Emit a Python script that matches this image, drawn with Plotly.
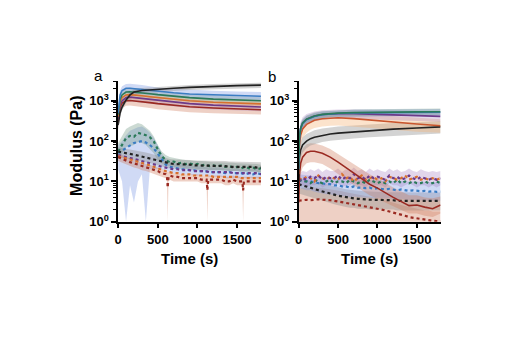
import plotly.graph_objects as go

# ---------------- DATA ----------------
# Panel a: storage modulus (solid), time grid
TA = [0, 25, 50, 100, 150, 200, 300, 400, 500, 700, 900, 1200, 1500, 1800]
a_blue = [500, 1400, 1800, 2050, 2050, 2000, 1900, 1800, 1700, 1580, 1480, 1400, 1340, 1300]
a_blue_lo = [350, 1050, 1350, 1550, 1550, 1500, 1450, 1400, 1320, 1250, 1180, 1120, 1080, 1050]
a_blue_hi = [700, 1800, 2300, 2600, 2650, 2600, 2450, 2300, 2150, 2000, 1880, 1780, 1700, 1650]
a_green = [450, 1100, 1400, 1650, 1680, 1650, 1580, 1500, 1420, 1300, 1200, 1100, 1040, 1000]
a_green_lo = [320, 850, 1100, 1300, 1320, 1300, 1250, 1180, 1120, 1030, 950, 880, 830, 800]
a_green_hi = [600, 1400, 1750, 2050, 2100, 2080, 1980, 1880, 1780, 1630, 1500, 1380, 1300, 1250]
a_orange = [400, 950, 1200, 1400, 1420, 1400, 1330, 1260, 1200, 1090, 1000, 920, 870, 840]
a_orange_lo = [300, 760, 960, 1120, 1140, 1120, 1060, 1000, 960, 870, 800, 740, 700, 670]
a_orange_hi = [520, 1200, 1500, 1750, 1780, 1750, 1660, 1580, 1500, 1360, 1250, 1150, 1090, 1050]
a_purple = [350, 800, 1000, 1200, 1230, 1200, 1140, 1080, 1020, 920, 850, 780, 730, 700]
a_purple_lo = [250, 620, 780, 950, 970, 950, 900, 850, 800, 720, 660, 610, 570, 550]
a_purple_hi = [470, 1000, 1250, 1500, 1530, 1500, 1420, 1350, 1280, 1150, 1060, 980, 920, 880]
a_red = [300, 700, 880, 1000, 1020, 1000, 950, 900, 850, 770, 710, 660, 620, 600]
a_red_lo = [200, 500, 650, 750, 760, 740, 700, 660, 620, 560, 520, 490, 470, 460]
a_red_hi = [420, 900, 1100, 1280, 1300, 1280, 1220, 1160, 1100, 1000, 930, 870, 820, 790]
a_black = [250, 500, 700, 1050, 1400, 1650, 1800, 1870, 1920, 2050, 2150, 2280, 2380, 2450]
a_black_lo = [180, 400, 580, 880, 1180, 1400, 1550, 1600, 1650, 1750, 1840, 1950, 2030, 2090]
a_black_hi = [330, 620, 840, 1250, 1650, 1930, 2080, 2150, 2220, 2360, 2480, 2620, 2740, 2820]

# Panel a: loss modulus (dotted), 50 s grid
TD = [0, 50, 100, 150, 200, 250, 300, 350, 400, 450, 500, 550, 600, 650, 700, 750, 800, 850,
      900, 950, 1000, 1050, 1100, 1150, 1200, 1250, 1300, 1350, 1400, 1450, 1500, 1550, 1600,
      1650, 1700, 1750, 1800]
ad_green = [55, 82, 118, 135, 128, 160, 150, 140, 125, 98, 62, 42, 34, 30, 31, 28, 29, 27, 28,
            26, 27, 25, 26, 24, 25, 23, 25, 23, 24, 22, 23, 21, 23, 21, 22, 20, 21]
ad_green_lo = [35, 50, 70, 75, 80, 95, 90, 80, 65, 50, 33, 28, 25, 24, 23, 22, 22, 21, 21, 21,
               20, 20, 20, 19, 19, 19, 19, 18, 18, 18, 18, 17, 17, 17, 17, 17, 16]
ad_green_hi = [90, 130, 200, 230, 250, 280, 260, 220, 180, 130, 80, 55, 45, 40, 38, 36, 35, 34,
               33, 33, 32, 32, 31, 31, 30, 30, 30, 29, 29, 29, 28, 28, 28, 27, 27, 27, 26]
ad_blue = [50, 58, 68, 80, 90, 95, 100, 92, 80, 66, 48, 34, 26, 23, 22, 21, 20, 20, 19, 19, 18,
           18, 18, 17, 17, 17, 17, 16, 17, 16, 16, 16, 15, 16, 15, 16, 15]
ad_blue_lo = [20, 10, 1, 8, 3, 10, 15, 1, 20, 20, 20, 20, 18, 17, 16, 16, 15, 15, 15, 14, 14, 14,
              14, 13, 13, 13, 13, 12, 12, 12, 12, 12, 12, 12, 12, 12, 12]
ad_blue_hi = [80, 100, 140, 180, 200, 220, 230, 200, 160, 120, 80, 50, 35, 30, 28, 27, 26, 25,
              25, 24, 24, 23, 23, 22, 22, 22, 22, 21, 21, 21, 21, 20, 20, 20, 20, 20, 20]
ad_black = [55, 52, 50, 48, 46, 44, 42, 40, 37, 35, 33, 31, 29, 28, 27, 27, 26, 26, 26, 25, 25,
            25, 25, 24, 24, 24, 24, 24, 23, 23, 23, 23, 23, 23, 23, 22, 22]
ad_black_lo = [40, 38, 37, 35, 34, 33, 31, 30, 28, 27, 25, 24, 22, 21, 21, 21, 20, 20, 20, 19, 19,
               19, 19, 19, 19, 19, 19, 19, 18, 18, 18, 18, 18, 18, 18, 17, 17]
ad_black_hi = [70, 66, 64, 62, 60, 58, 55, 52, 49, 46, 43, 40, 37, 36, 35, 35, 34, 34, 34, 33, 33,
               33, 33, 32, 32, 32, 32, 32, 31, 31, 31, 31, 31, 31, 31, 30, 30]
ad_purple = [45, 42, 40, 38, 36, 34, 32, 30, 28, 26, 25, 23, 22, 21, 20, 20, 19, 19, 19, 18, 18,
             18, 18, 17, 17, 17, 17, 17, 17, 16, 16, 16, 16, 16, 16, 16, 15]
ad_orange = [42, 40, 37, 35, 33, 31, 29, 27, 25, 23, 21, 19, 18, 17, 16, 16, 15, 15, 15, 14, 14,
             14, 14, 14, 13, 13, 13, 13, 13, 13, 13, 12, 12, 12, 12, 12, 12]
TRA = [0, 50, 100, 150, 200, 250, 300, 350, 400, 450, 500, 550, 600, 615, 625, 635, 650, 700,
       750, 800, 850, 900, 950, 1000, 1050, 1100, 1115, 1125, 1135, 1150, 1200, 1250, 1300,
       1350, 1400, 1450, 1500, 1550, 1565, 1575, 1585, 1600, 1650, 1700, 1750, 1800]
ad_red = [40, 36, 33, 30, 28, 26, 24, 22, 21, 19, 18, 16, 15, 14, 7, 13, 14, 13, 13, 12, 12, 12,
          12, 12, 11, 11, 11, 6, 11, 11, 11, 11, 11, 10, 10, 11, 10, 10, 10, 6, 10, 10, 10, 10,
          10, 10]
ad_red_lo = [32, 29, 26, 24, 22, 21, 19, 18, 17, 15, 14, 13, 12, 11, 1, 10, 11, 10, 10, 10, 10,
             10, 10, 10, 9, 9, 9, 1, 9, 9, 9, 9, 9, 8, 8, 9, 8, 8, 8, 1, 8, 8, 8, 8, 8, 8]
ad_red_hi = [50, 45, 41, 37, 35, 32, 30, 27, 26, 24, 22, 20, 19, 18, 17, 17, 18, 16, 16, 15, 15,
             15, 15, 15, 14, 14, 14, 14, 14, 14, 14, 14, 14, 13, 13, 14, 13, 13, 13, 13, 13, 13,
             13, 13, 13, 13]

# Panel b: storage modulus (solid)
TB = [0, 10, 25, 50, 100, 150, 200, 300, 400, 500, 700, 900, 1200, 1500, 1800]
b_blue = [20, 120, 200, 270, 340, 380, 410, 450, 470, 485, 500, 505, 510, 515, 520]
b_blue_lo = [12, 85, 150, 210, 270, 305, 335, 370, 390, 400, 410, 415, 420, 425, 430]
b_blue_hi = [30, 160, 260, 340, 420, 460, 490, 540, 560, 580, 600, 610, 615, 620, 625]
b_green = [20, 130, 210, 280, 350, 390, 420, 460, 480, 495, 510, 520, 525, 530, 535]
b_green_lo = [13, 95, 155, 215, 280, 315, 340, 375, 395, 405, 415, 425, 430, 435, 440]
b_green_hi = [28, 170, 270, 350, 430, 470, 510, 550, 570, 590, 610, 620, 630, 640, 645]
b_purple = [20, 130, 210, 280, 350, 390, 420, 455, 470, 480, 480, 470, 450, 425, 410]
b_purple_lo = [12, 85, 140, 190, 250, 285, 310, 340, 355, 360, 360, 350, 330, 310, 300]
b_purple_hi = [32, 190, 300, 390, 470, 510, 540, 580, 600, 610, 610, 600, 580, 560, 545]
b_orange = [15, 80, 140, 200, 260, 300, 330, 360, 375, 380, 360, 330, 300, 265, 240]
b_orange_lo = [8, 45, 80, 120, 160, 190, 210, 230, 240, 245, 230, 210, 190, 170, 160]
b_orange_hi = [25, 130, 220, 300, 380, 430, 460, 500, 520, 520, 500, 460, 420, 380, 350]
b_black = [10, 40, 60, 80, 100, 115, 125, 140, 150, 158, 170, 182, 198, 212, 225]
b_black_lo = [6, 25, 38, 52, 66, 78, 85, 95, 102, 108, 116, 124, 135, 145, 155]
b_black_hi = [16, 65, 95, 125, 150, 170, 185, 205, 220, 230, 245, 260, 280, 295, 310]
TRB = [0, 10, 25, 50, 100, 150, 200, 300, 400, 500, 700, 900, 1000, 1200, 1400, 1500, 1600,
       1700, 1800]
b_red = [3, 15, 28, 40, 52, 56, 56, 50, 40, 30, 16, 8.5, 6.8, 4, 2.5, 2.6, 2.3, 2.1, 2.6]
b_red_lo = [2, 8, 15, 22, 28, 30, 30, 27, 21, 15, 8, 4.5, 3.6, 2.4, 1.6, 1.6, 1.4, 1.3, 1.6]
b_red_hi = [5, 24, 45, 65, 83, 88, 87, 78, 64, 48, 27, 15, 12, 7, 4.5, 4.5, 4, 3.8, 4.2]

# Panel b: loss modulus (dotted), 50 s grid
bd_purple = [10, 12, 11, 13, 12, 14, 11, 13, 12, 12, 14, 11, 13, 12, 15, 12, 13, 11, 14, 12, 13,
             12, 11, 14, 12, 13, 11, 12, 14, 12, 11, 13, 12, 11, 12, 11, 12]
bd_purple_lo = [7, 8, 7, 8, 8, 9, 7, 8, 8, 8, 9, 7, 8, 8, 9, 8, 8, 7, 9, 8, 8, 8, 7, 9, 8, 8, 7,
                8, 9, 8, 7, 8, 8, 7, 8, 7, 8]
bd_purple_hi = [15, 18, 17, 20, 18, 21, 17, 20, 18, 18, 21, 17, 20, 18, 22, 18, 20, 17, 21, 18,
                20, 18, 17, 21, 18, 20, 17, 18, 21, 18, 17, 20, 18, 17, 18, 17, 18]
bd_green = [11, 10, 10, 9, 11, 10, 9, 10, 11, 9, 10, 10, 9, 11, 10, 9, 10, 9, 11, 10, 9, 10, 9,
            10, 9, 11, 9, 10, 9, 10, 9, 9, 10, 9, 9, 10, 9]
bd_orange = [12, 11, 13, 12, 10, 14, 12, 11, 13, 12, 11, 15, 12, 13, 10, 12, 14, 11, 12, 13, 11,
             12, 10, 13, 12, 11, 12, 14, 11, 12, 13, 11, 12, 11, 12, 11, 12]
bd_blue = [11, 10.5, 10, 10, 9.5, 9, 9, 8.5, 8.5, 8, 8, 7.5, 7.5, 7, 7.5, 7, 7, 6.8, 7, 6.5,
           6.8, 6.5, 6.3, 6.5, 6.2, 6, 6.3, 6, 5.8, 6, 5.8, 5.7, 5.8, 5.6, 5.7, 5.5, 5.6]
bd_blue_lo = [7, 6.5, 6, 6, 5.5, 5.2, 5, 4.8, 4.8, 4.5, 4.5, 4.3, 4.3, 4, 4.2, 4, 4, 3.9, 4, 3.8,
              3.9, 3.8, 3.7, 3.8, 3.6, 3.5, 3.7, 3.5, 3.4, 3.5, 3.4, 3.3, 3.4, 3.3, 3.3, 3.2, 3.3]
bd_blue_hi = [15, 14.5, 14, 14, 13.5, 13, 13, 12.5, 12.5, 12, 12, 11.5, 11.5, 11, 11.5, 11, 11,
              10.8, 11, 10.5, 10.8, 10.5, 10.3, 10.5, 10.2, 10, 10.3, 10, 9.8, 10, 9.8, 9.7,
              9.8, 9.6, 9.7, 9.5, 9.6]
bd_black = [8.5, 8, 7.5, 7, 6.5, 6, 5.7, 5.3, 5, 4.7, 4.4, 4.2, 4.0, 3.9, 3.8, 3.7, 3.6, 3.6,
            3.5, 3.5, 3.5, 3.4, 3.4, 3.4, 3.4, 3.3, 3.3, 3.3, 3.3, 3.2, 3.2, 3.2, 3.3, 3.3,
            3.3, 3.3, 3.3]
bd_black_lo = [5, 4.8, 4.5, 4.2, 3.9, 3.6, 3.4, 3.1, 2.9, 2.7, 2.5, 2.4, 2.3, 2.2, 2.2, 2.1,
               2.1, 2.1, 2, 2, 2, 2, 2, 2, 2, 1.9, 1.9, 1.9, 1.9, 1.9, 1.9, 1.9, 1.9, 1.9, 1.9,
               1.9, 1.9]
bd_black_hi = [12, 11.5, 11, 10.5, 10, 9.5, 9, 8.5, 8, 7.5, 7, 6.7, 6.4, 6.2, 6, 5.9, 5.8, 5.7,
               5.6, 5.5, 5.5, 5.4, 5.4, 5.4, 5.4, 5.3, 5.3, 5.3, 5.3, 5.2, 5.2, 5.2, 5.3, 5.3,
               5.3, 5.3, 5.3]
bd_red = [3.3, 3.4, 3.5, 3.4, 3.5, 3.6, 3.5, 3.5, 3.4, 3.3, 3.2, 3.0, 2.9, 2.8, 2.7, 2.6, 2.5,
          2.4, 2.3, 2.2, 2.1, 2.0, 1.9, 1.8, 1.7, 1.6, 1.5, 1.4, 1.3, 1.25, 1.2, 1.15, 1.1,
          1.08, 1.05, 1.03, 1.02]
bd_red_lo = [0.6, 0.6, 0.5, 0.7, 0.5, 0.6, 0.5, 0.6, 0.5, 0.6, 0.5, 0.5, 0.5, 0.5, 0.5, 0.5,
             0.5, 0.5, 0.5, 0.5, 0.5, 0.5, 0.5, 0.5, 0.5, 0.5, 0.5, 0.5, 0.5, 0.5, 0.5, 0.5,
             0.5, 0.5, 0.5, 0.5, 0.5]
bd_red_hi = [6.5, 7, 7, 6.8, 7, 7, 6.8, 6.6, 6.4, 6.2, 6, 5.7, 5.4, 5.2, 5, 4.8, 4.6, 4.4, 4.2,
             4.0, 3.8, 3.6, 3.4, 3.2, 3.0, 2.8, 2.6, 2.4, 2.3, 2.2, 2.1, 2.0, 1.9, 1.9, 1.8,
             1.8, 1.8]

# ---------------- STYLE ----------------
BLUE, GREEN, PURPLE = "#3a7cc3", "#2b7a5a", "#6c3a8a"
RED, ORANGE, BLACK = "#9a2a22", "#d8702e", "#222222"
ORANGE_B = "#c9562e"
F_BLUE = "rgba(120,150,225,0.35)"
F_GREEN = "rgba(110,150,130,0.35)"
F_PURPLE = "rgba(160,120,190,0.30)"
F_RED = "rgba(205,120,90,0.35)"
F_ORANGE = "rgba(245,175,110,0.35)"
F_BLACK = "rgba(140,140,140,0.38)"

fig = go.Figure()


def band(x, lo, hi, color, xa, ya):
    fig.add_trace(go.Scatter(x=list(x) + list(x)[::-1], y=list(hi) + list(lo)[::-1],
                             fill="toself", fillcolor=color, line=dict(width=0),
                             mode="lines", hoverinfo="skip", showlegend=False,
                             xaxis=xa, yaxis=ya))


def line(x, y, color, xa, ya, dotted=False):
    fig.add_trace(go.Scatter(x=x, y=y, mode="lines", showlegend=False,
                             line=dict(color=color, width=2.2 if dotted else 1.6,
                                       dash="dot" if dotted else "solid"),
                             xaxis=xa, yaxis=ya))


# panel a bands
band(TD, ad_blue_lo, ad_blue_hi, F_BLUE, "x", "y")
band(TD, ad_green_lo, ad_green_hi, F_GREEN, "x", "y")
band(TD, ad_black_lo, ad_black_hi, F_BLACK, "x", "y")
band(TRA, ad_red_lo, ad_red_hi, F_RED, "x", "y")
band(TA, a_red_lo, a_red_hi, F_RED, "x", "y")
band(TA, a_purple_lo, a_purple_hi, F_PURPLE, "x", "y")
band(TA, a_orange_lo, a_orange_hi, F_ORANGE, "x", "y")
band(TA, a_green_lo, a_green_hi, F_GREEN, "x", "y")
band(TA, a_blue_lo, a_blue_hi, F_BLUE, "x", "y")
band(TA, a_black_lo, a_black_hi, F_BLACK, "x", "y")
# panel a lines
for y_, c in [(ad_green, GREEN), (ad_blue, BLUE), (ad_black, BLACK), (ad_purple, PURPLE),
              (ad_orange, ORANGE)]:
    line(TD, y_, c, "x", "y", dotted=True)
line(TRA, ad_red, RED, "x", "y", dotted=True)
for y_, c in [(a_red, RED), (a_purple, PURPLE), (a_orange, ORANGE), (a_green, GREEN),
              (a_blue, BLUE), (a_black, BLACK)]:
    line(TA, y_, c, "x", "y")

# panel b bands
band(TD, bd_red_lo, bd_red_hi, F_RED, "x2", "y2")
band(TD, bd_black_lo, bd_black_hi, F_BLACK, "x2", "y2")
band(TD, bd_blue_lo, bd_blue_hi, F_BLUE, "x2", "y2")
band(TD, bd_purple_lo, bd_purple_hi, F_PURPLE, "x2", "y2")
band(TRB, b_red_lo, b_red_hi, F_RED, "x2", "y2")
band(TB, b_black_lo, b_black_hi, F_BLACK, "x2", "y2")
band(TB, b_orange_lo, b_orange_hi, F_ORANGE, "x2", "y2")
band(TB, b_purple_lo, b_purple_hi, F_PURPLE, "x2", "y2")
band(TB, b_blue_lo, b_blue_hi, F_BLUE, "x2", "y2")
band(TB, b_green_lo, b_green_hi, F_GREEN, "x2", "y2")
# panel b lines
for y_, c in [(bd_red, RED), (bd_black, BLACK), (bd_blue, BLUE), (bd_green, GREEN),
              (bd_orange, ORANGE), (bd_purple, PURPLE)]:
    line(TD, y_, c, "x2", "y2", dotted=True)
line(TRB, b_red, RED, "x2", "y2")
for y_, c in [(b_black, BLACK), (b_orange, ORANGE_B), (b_purple, PURPLE), (b_blue, BLUE),
              (b_green, GREEN)]:
    line(TB, y_, c, "x2", "y2")

# ---------------- LAYOUT ----------------
W, H = 510, 341
FONT = "Liberation Sans, Arial, sans-serif"
tickfont = dict(family=FONT, size=13, color="black", weight="bold")
minor_vals = [m * 10 ** e for e in range(0, 4) for m in range(2, 10)]

xcommon = dict(range=[0, 1800], tickvals=[0, 500, 1000, 1500], ticks="outside", ticklen=5,
               tickwidth=1.5, tickcolor="black", showline=True, linecolor="black",
               linewidth=1.5, showgrid=False, zeroline=False, tickfont=tickfont)
ycommon = dict(type="log", range=[0, 3.49], tickvals=[1, 10, 100, 1000],
               ticktext=["10<sup>0</sup>", "10<sup>1</sup>", "10<sup>2</sup>", "10<sup>3</sup>"],
               ticks="outside", ticklen=5, tickwidth=1.5, tickcolor="black", showline=True,
               linecolor="black", linewidth=1.5, showgrid=False, zeroline=False,
               tickfont=tickfont,
               minor=dict(tickvals=minor_vals, ticks="outside", ticklen=3, tickwidth=1,
                          tickcolor="black", showgrid=False))

ydom = [1 - 227 / H, 1 - 83 / H]
fig.update_layout(
    width=W, height=H, margin=dict(l=0, r=0, t=0, b=0),
    paper_bgcolor="white", plot_bgcolor="white", showlegend=False,
    xaxis=dict(domain=[115 / W, 259 / W], anchor="y", **xcommon),
    yaxis=dict(domain=ydom, anchor="x", **ycommon),
    xaxis2=dict(domain=[297 / W, 440 / W], anchor="y2", **xcommon),
    yaxis2=dict(domain=ydom, anchor="x2", **ycommon),
)


def label(text, px, py, size, bold=True, angle=0):
    fig.add_annotation(text=text, x=px / W, y=1 - py / H, xref="paper", yref="paper",
                       xanchor="center", yanchor="middle", textangle=angle, showarrow=False,
                       font=dict(family=FONT, size=size, color="black",
                                 weight="bold" if bold else "normal"))


label("Modulus (Pa)", 73, 149, 16, angle=-90)
label("Time (s)", 187, 265, 15)
label("Time (s)", 368.5, 265, 15)
label("a", 95, 77, 15, bold=False)
label("b", 270, 78, 15, bold=False)

fig.write_html("out.html")
